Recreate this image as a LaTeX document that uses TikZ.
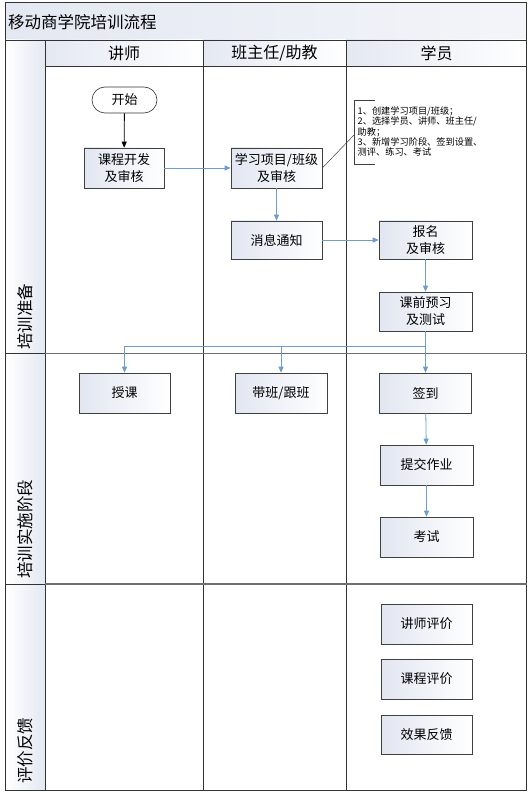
\documentclass[tikz,border=0pt]{standalone}
\usepackage{fontspec}
\setmainfont{Noto Sans CJK SC}
\usetikzlibrary{arrows.meta}
\definecolor{conn}{HTML}{6C9DCB}
\definecolor{boxl}{HTML}{E2E6F1}
\definecolor{hdrl}{HTML}{E4E8F2}
\definecolor{sepc}{HTML}{6E6E6E}
\begin{document}
\begin{tikzpicture}[x=1pt,y=-1pt,
  bx/.style={draw=black!75, line width=0.6pt, left color=boxl, right color=white,
    minimum width=91pt, minimum height=40pt, inner sep=1pt, align=center,
    font=\fontsize{13}{17}\selectfont},
  cn/.style={draw=conn, line width=0.8pt, -{Triangle[length=6pt,width=5pt]}},
  frame/.style={draw=black!80, line width=0.8pt},
  hdr/.style={font=\fontsize{16}{18}\selectfont},
  lanelbl/.style={font=\fontsize{16.5}{18}\selectfont, rotate=90, anchor=west, inner sep=0pt}]
\useasboundingbox (0,0) rectangle (530,799);
% backgrounds
\shade[left color=hdrl, right color=hdrl!45] (5.5,2.5) rectangle (526.5,40);
\shade[left color=hdrl, right color=white] (45,40) rectangle (203,66);
\shade[left color=hdrl, right color=white] (203,40) rectangle (346,66);
\shade[left color=hdrl, right color=white] (346,40) rectangle (526.5,66);
\shade[left color=white, right color=hdrl] (5.5,40) rectangle (45,353.5);
\shade[left color=white, right color=hdrl] (5.5,353.5) rectangle (45,584);
\shade[left color=white, right color=hdrl] (5.5,584) rectangle (45,790.5);
% grid
\draw[frame] (5.5,2.5) rectangle (526.5,790.5);
\draw[frame] (5.5,40) -- (526.5,40);
\draw[frame] (45,40) -- (45,790.5);
\draw[frame] (203,40) -- (203,790.5);
\draw[frame] (346,40) -- (346,790.5);
\draw[frame] (45,66) -- (526.5,66);
\draw[frame] (5.5,353.5) -- (45,353.5);
\draw[frame] (5.5,584) -- (45,584);
\draw[sepc, line width=1.6pt] (45,353.5) -- (526.5,353.5);
\draw[sepc, line width=1.6pt] (45,584) -- (526.5,584);
% title and headers
\node[anchor=west, font=\fontsize{16.5}{18}\selectfont, inner sep=0pt] (title) at (8,22) {移动商学院培训流程};
\node[hdr] (h1) at (124,53) {讲师};
\node[hdr] (h2) at (274.5,53) {班主任/助教};
\node[hdr] (h3) at (436.5,53) {学员};
\node[lanelbl] (l1) at (25,350) {培训准备};
\node[lanelbl] (l2) at (25,579) {培训实施阶段};
\node[lanelbl] (l3) at (25,784) {评价反馈};
% nodes
\node[draw=black!80, line width=0.6pt, rounded corners=13pt, fill=white,
  minimum width=65pt, minimum height=26pt, font=\fontsize{13}{15}\selectfont] (start) at (124.5,100) {开始};
\node[bx, minimum width=80pt] (kc) at (124,168) {课程开发\\及审核};
\node[bx] (xx) at (276.5,168) {学习项目/班级\\及审核};
\node[bx, minimum height=38pt] (xt) at (276.5,240) {消息通知};
\node[bx, minimum width=93pt, minimum height=38pt] (bm) at (425.5,240) {报名\\及审核};
\node[bx, minimum width=93pt, minimum height=39pt] (kq) at (425.5,311.5) {课前预习\\及测试};
\node[bx] (sk) at (124.5,393) {授课};
\node[bx, minimum width=92pt] (db) at (281,393) {带班/跟班};
\node[bx, minimum width=92pt] (qd) at (425.5,393) {签到};
\node[bx, minimum width=93pt] (tj) at (426.5,465) {提交作业};
\node[bx, minimum width=93pt] (ks) at (426.5,537) {考试};
\node[bx] (jp) at (426.5,624) {讲师评价};
\node[bx] (kp) at (426.5,679) {课程评价};
\node[bx, minimum height=39pt] (xg) at (426.5,734.5) {效果反馈};
% annotation
\coordinate (bt) at (375,100);
\coordinate (btl) at (354,100);
\coordinate (bbl) at (354,164);
\coordinate (bb) at (375,164);
\coordinate (bm1) at (354,135);
\draw[black!75, line width=0.6pt] (bt) -- (btl) -- (bbl) -- (bb);
\draw[black!75, line width=0.5pt] (xx.east) -- (bm1);
\node[anchor=north west, align=left, inner sep=0pt, font=\fontsize{9.2}{10.3}\selectfont] (note) at (357.5,106.5)
 {1、创建学习项目/班级；\\2、选择学员、讲师、班主任/\\助教；\\3、新增学习阶段、签到设置、\\测评、练习、考试};
% connectors
\draw[line width=0.8pt, -{Triangle[length=6pt,width=5pt]}] (start) -- (kc);
\draw[cn] (kc) -- (xx);
\draw[cn] (xx) -- (xt);
\draw[cn] (xt) -- (bm);
\draw[cn] (bm) -- (kq);
\draw[cn] (kq) -- (qd);
\coordinate (br) at (425.5,346);
\draw[cn] (br) -| (sk.north);
\draw[cn] (br) -| (db.north);
\draw[cn] (qd) -- (tj);
\draw[cn] (tj) -- (ks);
\end{tikzpicture}
\end{document}
